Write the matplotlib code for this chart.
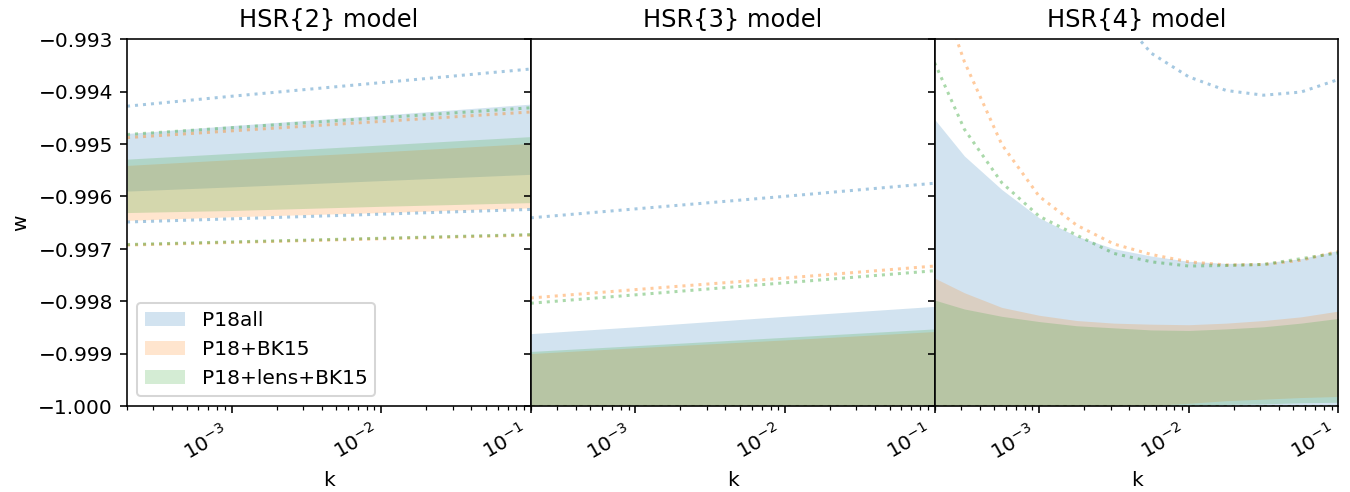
import numpy as np
import matplotlib
matplotlib.use("Agg")
import matplotlib.pyplot as plt

plt.rcParams['font.size'] = 10

series_labels = ["P18all", "P18+BK15", "P18+lens+BK15"]
series_colors = ["tab:blue", "tab:orange", "tab:green"]
titles = ["HSR{2} model", "HSR{3} model", "HSR{4} model"]

# ---- panel 1 : HSR{2} ----
k1 = [2e-4, 1e-3, 1e-2, 1e-1]
p1_fill_hi = [[-0.99480, -0.99465, -0.99445, -0.99424],
              [-0.99541, -0.99530, -0.99515, -0.99499],
              [-0.99529, -0.99518, -0.99502, -0.99486]]
p1_fill_lo = [[-0.99590, -0.99582, -0.99570, -0.99558],
              [-0.99646, -0.99639, -0.99631, -0.99622],
              [-0.99631, -0.99627, -0.99619, -0.99612]]
p1_dot_hi = [[-0.99428, -0.99409, -0.99383, -0.99357],
             [-0.99488, -0.99475, -0.99457, -0.99439],
             [-0.99482, -0.99469, -0.99450, -0.99431]]
p1_dot_lo = [[-0.99649, -0.99643, -0.99634, -0.99625],
             [-0.99693, -0.99688, -0.99681, -0.99674],
             [-0.99692, -0.99687, -0.99680, -0.99673]]

# ---- panel 2 : HSR{3} ----
k2 = [2e-4, 1e-3, 1e-2, 1e-1]
p2_fill_hi = [[-0.99862, -0.99849, -0.99829, -0.99810],
              [-0.99900, -0.99889, -0.99874, -0.99858],
              [-0.99896, -0.99885, -0.99869, -0.99853]]
p2_fill_lo = [[-1.0, -1.0, -1.0, -1.0],
              [-1.0, -1.0, -1.0, -1.0],
              [-1.0, -1.0, -1.0, -1.0]]
p2_dot_hi = [[-0.99641, -0.99624, -0.99600, -0.99575],
             [-0.99794, -0.99778, -0.99756, -0.99733],
             [-0.99804, -0.99788, -0.99765, -0.99742]]
p2_dot_lo = [[-1.0, -1.0, -1.0, -1.0],
             [-1.0, -1.0, -1.0, -1.0],
             [-1.0, -1.0, -1.0, -1.0]]

# ---- panel 3 : HSR{4} ----
k3 = [2e-4, 10**-3.5, 10**-3.25, 1e-3, 10**-2.75, 10**-2.5, 10**-2.25,
      1e-2, 10**-1.75, 10**-1.5, 10**-1.25, 1e-1]
p3_fill_hi = [[-0.99453, -0.99523, -0.99587, -0.99641, -0.99676, -0.99700,
               -0.99714, -0.99724, -0.99728, -0.99727, -0.99719, -0.99703],
              [-0.99756, -0.99784, -0.99812, -0.99827, -0.99837, -0.99842,
               -0.99844, -0.99845, -0.99842, -0.99837, -0.99830, -0.99819],
              [-0.99798, -0.99815, -0.99829, -0.99839, -0.99847, -0.99851,
               -0.99855, -0.99856, -0.99853, -0.99849, -0.99842, -0.99833]]
p3_fill_lo = [[-1.0, -1.0, -1.0, -1.0, -1.0, -1.0,
               -1.0, -1.0, -1.0, -1.0, -1.0, -1.0],
              [-1.0, -1.0, -1.0, -1.0, -1.0, -1.0,
               -0.99999, -0.99995, -0.99990, -0.99987, -0.99984, -0.99982],
              [-1.0, -1.0, -1.0, -1.0, -1.0, -1.0,
               -1.0, -0.99998, -0.99997, -0.99996, -0.99994, -0.99993]]
p3_dot_hi = [[-0.98500, -0.98700, -0.98900, -0.99050, -0.99160, -0.99245,
              -0.99327, -0.99372, -0.99398, -0.99407, -0.99401, -0.99377],
             [-0.99180, -0.99343, -0.99501, -0.99600, -0.99655, -0.99691,
              -0.99711, -0.99725, -0.99731, -0.99730, -0.99722, -0.99705],
             [-0.99345, -0.99472, -0.99574, -0.99638, -0.99674, -0.99709,
              -0.99725, -0.99733, -0.99732, -0.99730, -0.99719, -0.99708]]
p3_dot_lo = [[-1.0] * 12, [-1.0] * 12, [-1.0] * 12]

panels = [
    (k1, p1_fill_hi, p1_fill_lo, p1_dot_hi, p1_dot_lo),
    (k2, p2_fill_hi, p2_fill_lo, p2_dot_hi, p2_dot_lo),
    (k3, p3_fill_hi, p3_fill_lo, p3_dot_hi, p3_dot_lo),
]

DPI = 145
fig, axes = plt.subplots(1, 3, figsize=(1350.4 / DPI, 492.4 / DPI), dpi=DPI,
                         sharey=True)
fig.subplots_adjust(left=127 / 1350, right=1338 / 1350,
                    bottom=1 - 406 / 492, top=1 - 39.5 / 492, wspace=0)

for i, (ax, (k, fh, fl, dh, dl)) in enumerate(zip(axes, panels)):
    for j in range(3):
        ax.fill_between(k, fl[j], fh[j], color=series_colors[j], alpha=0.2,
                        linewidth=0, label=series_labels[j])
    for j in range(3):
        ax.plot(k, dh[j], ls=':', lw=1.5, color=series_colors[j], alpha=0.4)
        ax.plot(k, dl[j], ls=':', lw=1.5, color=series_colors[j], alpha=0.4)
    ax.set_xscale('log')
    ax.set_xlim(2e-4, 1e-1)
    ax.set_ylim(-1.0, -0.993)
    ax.set_title(titles[i])
    ax.set_xlabel('k')
    for lab in ax.get_xticklabels():
        lab.set_rotation(30)
        lab.set_ha('right')
    if i > 0:
        ax.tick_params(axis='y', labelleft=False)

axes[0].set_ylabel('w')
axes[0].set_yticks([-1.0, -0.999, -0.998, -0.997, -0.996, -0.995, -0.994, -0.993])
axes[0].legend(loc='lower left')

fig.savefig('out.png', dpi=DPI)
